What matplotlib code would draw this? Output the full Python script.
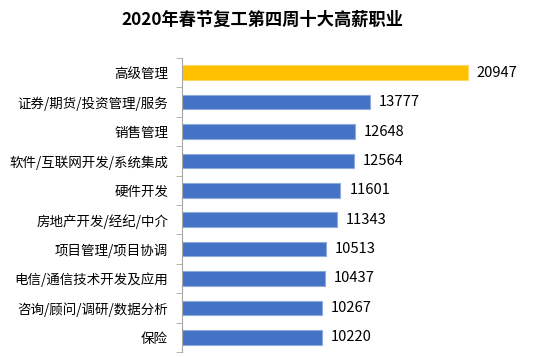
import matplotlib.pyplot as plt

plt.rcParams['font.family'] = ['Noto Sans CJK SC', 'DejaVu Sans']

# data, top to bottom
jobs = ['高级管理', '证券/期货/投资管理/服务', '销售管理', '软件/互联网开发/系统集成',
        '硬件开发', '房地产开发/经纪/中介', '项目管理/项目协调', '电信/通信技术开发及应用',
        '咨询/顾问/调研/数据分析', '保险']
salary = [20947, 13777, 12648, 12564, 11601, 11343, 10513, 10437, 10267, 10220]

colors = ['#FFC000'] + ['#4472C4'] * (len(jobs) - 1)
edges = ['#FFD966'] + ['#8FAADC'] * (len(jobs) - 1)

fig = plt.figure(figsize=(5.38, 3.57), dpi=100)
ax = fig.add_axes([182 / 538, 5 / 357, (538 - 182) / 538, 294 / 357])

pos = list(range(len(jobs)))
ax.barh(pos, salary, height=0.49, color=colors, edgecolor=edges, linewidth=0.8)
ax.set_ylim(len(jobs) - 0.5, -0.5)
ax.set_xlim(0, 20947 * 356 / 286)

for p, v in zip(pos, salary):
    ax.text(v + 650, p, str(v), va='center', ha='left', fontsize=10.6, color='#000000')

ax.set_yticks(pos)
ax.set_yticklabels(jobs, fontsize=9.7)
ax.set_yticks([p + 0.5 for p in pos] + [-0.5], minor=True)
ax.tick_params(axis='y', which='major', length=0, pad=10)
ax.tick_params(axis='y', which='minor', length=4, color='#A6A6A6', direction='out')
ax.set_xticks([])
for s in ['top', 'right', 'bottom']:
    ax.spines[s].set_visible(False)
ax.spines['left'].set_color('#A6A6A6')

fig.text(262 / 538, 1 - 20 / 357, '2020年春节复工第四周十大高薪职业', ha='center', va='center',
         fontsize=12.4, fontweight='bold')

fig.savefig('out.png', dpi=100)
